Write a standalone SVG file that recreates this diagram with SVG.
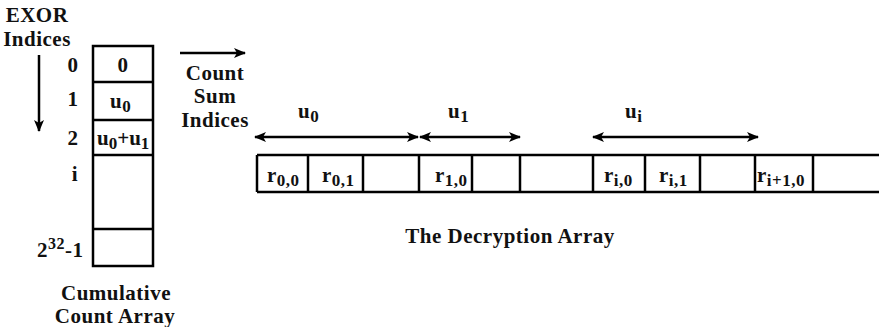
<svg xmlns="http://www.w3.org/2000/svg" width="879" height="327" viewBox="0 0 879 327">
<defs>
<style>
text{font-family:"Liberation Serif","Times New Roman",serif;font-weight:bold;font-size:21px;letter-spacing:0.5px;fill:#111}
.sub{font-size:17px}
.sup{font-size:16px}
.c{text-anchor:middle}
.box{fill:#fff;stroke:#000;stroke-width:2.5}
.ln{stroke:#000;stroke-width:2.5;fill:none}
.arr{stroke:#000;stroke-width:2.5;fill:none}
</style>
<marker id="ah" viewBox="0 0 12 10" refX="11" refY="5" markerWidth="12" markerHeight="10" markerUnits="userSpaceOnUse" orient="auto-start-reverse">
<path d="M0,0 L12,5 L0,10 L3,5 Z" fill="#000"/>
</marker>
</defs>
<rect width="879" height="327" fill="#fff"/>

<g id="exor-label">
<text class="c" x="37" y="22">EXOR</text>
<text class="c" x="37" y="46">Indices</text>
</g>

<g id="count-sum-label">
<text class="c" x="215" y="80">Count</text>
<text class="c" x="215" y="103">Sum</text>
<text class="c" x="215" y="127">Indices</text>
</g>

<g id="cumulative-array">
<rect class="box" x="93" y="46" width="60" height="220"/>
<line class="ln" x1="93" y1="82" x2="153" y2="82"/>
<line class="ln" x1="93" y1="120" x2="153" y2="120"/>
<line class="ln" x1="93" y1="155" x2="153" y2="155"/>
<line class="ln" x1="93" y1="229" x2="153" y2="229"/>
<text class="c" x="123" y="72">0</text>
<text x="110" y="108">u<tspan class="sub" dy="4">0</tspan></text>
<text x="97" y="145" style="letter-spacing:0">u<tspan class="sub" dy="4">0</tspan><tspan dy="-4">+u</tspan><tspan class="sub" dy="4">1</tspan></text>
</g>

<g id="index-labels">
<text class="c" x="73" y="72">0</text>
<text class="c" x="73" y="106">1</text>
<text class="c" x="73" y="145">2</text>
<text class="c" x="75" y="181">i</text>
<text x="37" y="257">2<tspan class="sup" dy="-8">32</tspan><tspan dy="8">-1</tspan></text>
</g>

<g id="cumulative-caption">
<text class="c" x="116" y="300">Cumulative</text>
<text class="c" x="115" y="323">Count Array</text>
</g>

<g id="decryption-array">
<line class="ln" x1="257" y1="155" x2="879" y2="155"/>
<line class="ln" x1="257" y1="192" x2="879" y2="192"/>
<line class="ln" x1="257" y1="155" x2="257" y2="192"/>
<line class="ln" x1="308" y1="155" x2="308" y2="192"/>
<line class="ln" x1="363" y1="155" x2="363" y2="192"/>
<line class="ln" x1="419" y1="155" x2="419" y2="192"/>
<line class="ln" x1="472" y1="155" x2="472" y2="192"/>
<line class="ln" x1="520" y1="155" x2="520" y2="192"/>
<line class="ln" x1="593" y1="155" x2="593" y2="192"/>
<line class="ln" x1="645" y1="155" x2="645" y2="192"/>
<line class="ln" x1="700" y1="155" x2="700" y2="192"/>
<line class="ln" x1="755" y1="155" x2="755" y2="192"/>
<line class="ln" x1="813" y1="155" x2="813" y2="192"/>
<text x="267" y="182">r<tspan class="sub" dy="4">0,0</tspan></text>
<text x="322" y="182">r<tspan class="sub" dy="4">0,1</tspan></text>
<text x="435" y="182">r<tspan class="sub" dy="4">1,0</tspan></text>
<text x="604" y="182">r<tspan class="sub" dy="4">i,0</tspan></text>
<text x="659" y="182">r<tspan class="sub" dy="4">i,1</tspan></text>
<text x="757" y="182">r<tspan class="sub" dy="4">i+1,0</tspan></text>
</g>

<g id="decryption-caption">
<text class="c" x="510" y="243">The Decryption Array</text>
</g>

<g id="span-labels">
<text x="298" y="118">u<tspan class="sub" dy="4">0</tspan></text>
<text x="448" y="118">u<tspan class="sub" dy="4">1</tspan></text>
<text x="625" y="118">u<tspan class="sub" dy="4">i</tspan></text>
</g>

<g id="connectors">
<line class="arr" x1="39" y1="55" x2="39" y2="131" marker-end="url(#ah)"/>
<line class="arr" x1="180" y1="53" x2="245" y2="53" marker-end="url(#ah)"/>
<line class="arr" x1="255" y1="137" x2="418" y2="137" marker-start="url(#ah)" marker-end="url(#ah)"/>
<line class="arr" x1="420" y1="137" x2="520" y2="137" marker-start="url(#ah)" marker-end="url(#ah)"/>
<line class="arr" x1="593" y1="137" x2="758" y2="137" marker-start="url(#ah)" marker-end="url(#ah)"/>
</g>
</svg>
